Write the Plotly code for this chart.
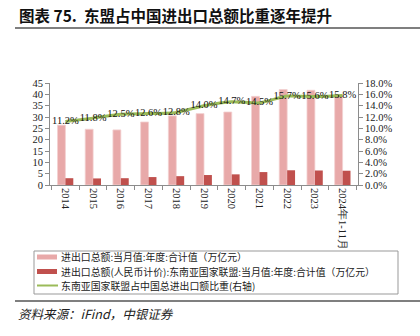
import plotly.graph_objects as go

categories = ["2014", "2015", "2016", "2017", "2018", "2019", "2020", "2021", "2022", "2023", "2024年1-11月"]
total_trade = [26.4, 24.6, 24.3, 27.8, 30.5, 31.5, 32.2, 39.1, 42.1, 41.8, 39.8]
asean_trade = [3.0, 2.9, 3.0, 3.5, 3.9, 4.4, 4.7, 5.7, 6.5, 6.4, 6.3]
asean_share = [11.2, 11.8, 12.5, 12.6, 12.8, 14.0, 14.7, 14.5, 15.7, 15.6, 15.8]
share_labels = [f"{v:.1f}%" for v in asean_share]

legend_names = [
    "进出口总额:当月值:年度:合计值（万亿元）",
    "进出口总额(人民币计价):东南亚国家联盟:当月值:年度:合计值（万亿元）",
    "东南亚国家联盟占中国总进出口额比重(右轴)",
]
title_text = "图表 75.  东盟占中国进出口总额比重逐年提升"
source_text = "资料来源：iFind，中银证券"

PINK = "#E8A9A9"
DARK = "#C0504D"
GREEN = "#9BBB59"
SERIF = "Liberation Serif, Times New Roman, serif"
CJK = "Noto Sans CJK SC"

# plot area in pixels
L, R, T, B = 50, 358, 83, 185
W, H = 420, 336
def px(x):
    return (x - L) / (R - L)
def py(y):
    return (B - y) / (B - T)

fig = go.Figure()
fig.add_trace(go.Bar(x=categories, y=total_trade, name=legend_names[0],
                     marker=dict(color=PINK, line=dict(color="#F3D0D0", width=0.8)),
                     showlegend=False))
fig.add_trace(go.Bar(x=categories, y=asean_trade, name=legend_names[1],
                     marker=dict(color=DARK, line=dict(width=0)), showlegend=False))
fig.add_trace(go.Scatter(x=categories, y=asean_share, name=legend_names[2], yaxis="y2",
                         mode="lines+text", line=dict(color=GREEN, width=3, shape="spline", smoothing=0.5),
                         text=share_labels, textposition="middle center",
                         textfont=dict(family=SERIF, size=10.5, color="#111"),
                         showlegend=False, cliponaxis=False))

axis_common = dict(showline=True, linecolor="#8c8c8c", linewidth=1, ticks="outside",
                   ticklen=4, tickcolor="#8c8c8c", showgrid=False, zeroline=False,
                   tickfont=dict(family=SERIF, size=10.5, color="#222"))

fig.update_layout(
    width=W, height=H, margin=dict(l=L, r=W - R, t=T, b=H - B),
    paper_bgcolor="white", plot_bgcolor="white",
    barmode="group", bargap=0.43, bargroupgap=0,
    showlegend=False,
    xaxis=dict(**axis_common, type="category", tickangle=90, tickson="boundaries"),
    yaxis=dict(**axis_common, range=[0, 45], dtick=5),
    yaxis2=dict(**axis_common, range=[0, 18], dtick=2, overlaying="y", side="right",
                tickformat=".1f", ticksuffix="%"),
)

shapes = []
annotations = []
# title
annotations.append(dict(xref="paper", yref="paper", x=px(17), y=py(15), xanchor="left", yanchor="middle",
                        text="<b>" + title_text + "</b>", showarrow=False,
                        font=dict(family=CJK, size=15.5, color="#111")))
shapes.append(dict(type="line", xref="paper", yref="paper", x0=px(15), x1=px(420), y0=py(28), y1=py(28),
                   line=dict(color="#555", width=1.5)))
# legend box
shapes.append(dict(type="rect", xref="paper", yref="paper", x0=px(34), x1=px(398), y0=py(251), y1=py(294),
                   line=dict(color="#999", width=1), fillcolor="white", layer="below"))
rows = [257, 271.5, 285.5]
swatches = [("rect", PINK), ("rect", DARK), ("line", GREEN)]
for (kind, col), yy, name in zip(swatches, rows, legend_names):
    if kind == "rect":
        shapes.append(dict(type="rect", xref="paper", yref="paper", x0=px(37), x1=px(57),
                           y0=py(yy - 2.5), y1=py(yy + 2.5), line=dict(width=0), fillcolor=col))
    else:
        shapes.append(dict(type="line", xref="paper", yref="paper", x0=px(37), x1=px(58),
                           y0=py(yy), y1=py(yy), line=dict(color=col, width=2)))
    annotations.append(dict(xref="paper", yref="paper", x=px(59), y=py(yy), xanchor="left", yanchor="middle",
                            text=name, showarrow=False, font=dict(family=CJK, size=9.9, color="#222")))
# source
shapes.append(dict(type="line", xref="paper", yref="paper", x0=px(15), x1=px(420), y0=py(301), y1=py(301),
                   line=dict(color="#555", width=1.5)))
annotations.append(dict(xref="paper", yref="paper", x=px(16), y=py(313), xanchor="left", yanchor="middle",
                        text="<i>" + source_text + "</i>", showarrow=False,
                        font=dict(family=CJK, size=12.5, color="#222")))
fig.update_layout(shapes=shapes, annotations=annotations)

fig.write_html("out.html")
